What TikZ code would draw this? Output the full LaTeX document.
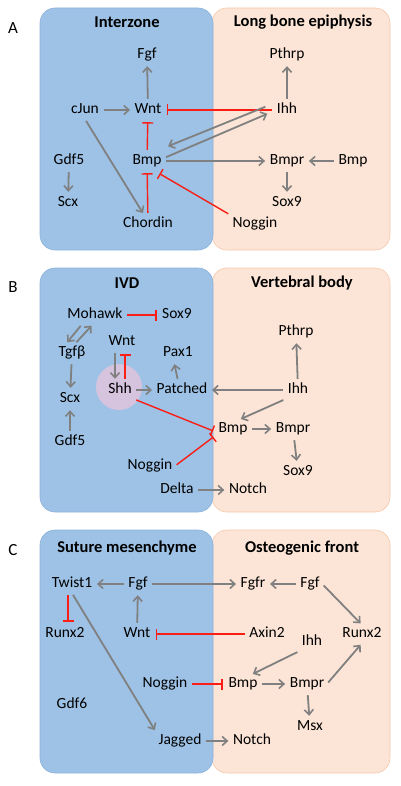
\documentclass[tikz,border=0pt]{standalone}
\usepackage{fontspec}
\setmainfont{Carlito}
\usepackage{tikz}
\usetikzlibrary{arrows.meta,positioning}
\definecolor{zoneblue}{RGB}{157,194,230}
\definecolor{zoneblueline}{RGB}{140,178,220}
\definecolor{zoneorange}{RGB}{252,229,214}
\definecolor{zoneorangeline}{RGB}{246,200,170}
\definecolor{arrowgray}{RGB}{128,128,128}
\definecolor{inhred}{RGB}{250,30,20}
\definecolor{shhpink}{RGB}{214,196,222}
\tikzstyle{leftzone} = [draw=zoneblueline, fill=zoneblue, rounded corners=15pt, line width=0.6pt]
\tikzstyle{rightzone} = [draw=zoneorangeline, fill=zoneorange, rounded corners=15pt, line width=0.6pt]
\tikzstyle{gene} = [inner sep=2.5pt, text height=10pt, text depth=3pt,
    font=\fontsize{15.5}{18}\selectfont]
\tikzstyle{zonetitle} = [font=\fontsize{16.5}{18}\selectfont\bfseries]
\tikzstyle{panel} = [font=\fontsize{17}{18}\selectfont]
\tikzstyle{act} = [draw=arrowgray, line width=1.8pt,
    -{Straight Barb[length=5pt,width=9pt,line width=1.6pt]}, shorten <=2pt, shorten >=2pt]
\tikzstyle{inh} = [draw=inhred, line width=1.4pt,
    -{Bar[width=11pt,line width=1.4pt]}, shorten <=2pt, shorten >=3pt]

\begin{document}
\begin{tikzpicture}[x=1pt,y=-1pt]
\useasboundingbox (0,0) rectangle (400,786);

% A: joint
\draw [rightzone] (212,8) rectangle (390,250);
\draw [leftzone] (40,8) rectangle (213,250);
\node [panel] (labA) at (13,28) {A};
\node [zonetitle] (titleA1) at (127,22) {Interzone};
\node [zonetitle] (titleA2) at (303,22) {Long bone epiphysis};

\node [gene] (fgfA) at (147,55) {Fgf};
\node [gene] (pthrpA) at (287,55) {Pthrp};
\node [gene] (cjunA) at (85,110) {cJun};
\node [gene] (wntA) at (148,110) {Wnt};
\node [gene] (ihhA) at (287,110) {Ihh};
\node [gene] (gdfA) at (69,161) {Gdf5};
\node [gene] (bmpA) at (147,161) {Bmp};
\node [gene] (bmprA) at (287,161) {Bmpr};
\node [gene] (bmp2A) at (353,161) {Bmp};
\node [gene] (scxA) at (68,203) {Scx};
\node [gene] (sox9A) at (287,203) {Sox9};
\node [gene] (chordinA) at (148,224) {Chordin};
\node [gene] (nogginA) at (255,224) {Noggin};

\draw [act] (wntA) -- (fgfA);
\draw [act] (cjunA) -- (wntA);
\draw [act] (cjunA.south) -- ([xshift=-4pt]chordinA.north);
\draw [act] (gdfA) -- (scxA);
\draw [inh] (ihhA) -- (wntA);
\draw [inh] (bmpA) -- (wntA);
\draw [inh] (chordinA) -- (bmpA);
\draw [inh] (nogginA.north west) -- ([xshift=10pt,yshift=-2pt]bmpA.south);
\draw [act] ([xshift=-7pt,yshift=4pt]ihhA.west) -- ([xshift=2pt,yshift=14pt]bmpA.east);
\draw [act] ([yshift=3pt]bmpA.east) -- ([xshift=-5pt,yshift=-3pt]ihhA.west);
\draw [act] (bmpA) -- (bmprA);
\draw [act] (bmp2A) -- (bmprA);
\draw [act] (ihhA) -- (pthrpA);
\draw [act] (bmprA) -- (sox9A);

% B: spine
\draw [rightzone] (212,268) rectangle (390,512);
\draw [leftzone] (40,268) rectangle (213,512);
\fill [shhpink] (119,387) circle (23);
\node [panel] (labB) at (13,287) {B};
\node [zonetitle] (titleB1) at (127,283) {IVD};
\node [zonetitle] (titleB2) at (302,283) {Vertebral body};

\node [gene] (mohawkB) at (95,315) {Mohawk};
\node [gene] (sox9B) at (177,315) {Sox9};
\node [gene] (pthrpB) at (296,332) {Pthrp};
\node [gene] (wntB) at (122,342) {Wnt};
\node [gene] (tgfB) at (72,353) {Tgfβ};
\node [gene] (pax1B) at (178,353) {Pax1};
\node [gene] (shhB) at (120,390) {Shh};
\node [gene] (patchedB) at (182,390) {Patched};
\node [gene] (ihhB) at (298,390) {Ihh};
\node [gene] (scxB) at (70,399) {Scx};
\node [gene] (bmpB) at (233,429) {Bmp};
\node [gene] (bmprB) at (293,429) {Bmpr};
\node [gene] (gdfB) at (70,442) {Gdf5};
\node [gene] (nogginB) at (150,466) {Noggin};
\node [gene] (sox9rB) at (298,472) {Sox9};
\node [gene] (deltaB) at (177,490) {Delta};
\node [gene] (notchB) at (248,490) {Notch};

\draw [inh] (mohawkB) -- (sox9B);
\draw [act] ([xshift=-13pt]mohawkB.south) -- ([xshift=-6pt]tgfB.north);
\draw [act] ([xshift=3pt]tgfB.north) -- ([xshift=-2pt]mohawkB.south);
\draw [act] (tgfB) -- (scxB);
\draw [act] (gdfB) -- (scxB);
\draw [act] ([xshift=-7pt]wntB.south) -- ([xshift=-5pt]shhB.north);
\draw [inh] ([xshift=5pt]shhB.north) -- ([xshift=3pt]wntB.south);
\draw [act] (shhB) -- (patchedB);
\draw [act] ([xshift=-4pt]patchedB.north) -- ([xshift=-4pt]pax1B.south);
\draw [act] (ihhB) -- (patchedB);
\draw [act] (ihhB) -- (pthrpB);
\draw [act] (ihhB.south west) -- ([xshift=6pt]bmpB.north);
\draw [inh] (shhB.south east) -- ([yshift=-3pt]bmpB.west);
\draw [inh] (nogginB.east) -- ([yshift=3pt]bmpB.south west);
\draw [act] (bmpB) -- (bmprB);
\draw [act] (bmprB) -- (sox9rB);
\draw [act] (deltaB) -- (notchB);

% C: suture
\draw [rightzone] (212,530) rectangle (390,773);
\draw [leftzone] (40,530) rectangle (213,773);
\node [panel] (labC) at (13,550) {C};
\node [zonetitle] (titleC1) at (127,548) {Suture mesenchyme};
\node [zonetitle] (titleC2) at (302,548) {Osteogenic front};

\node [gene] (twistC) at (72,584) {Twist1};
\node [gene] (fgfC) at (138,584) {Fgf};
\node [gene] (fgfrC) at (253,584) {Fgfr};
\node [gene] (fgf2C) at (310,584) {Fgf};
\node [gene] (runx2lC) at (65,634) {Runx2};
\node [gene] (wntC) at (137,634) {Wnt};
\node [gene] (axinC) at (267,634) {Axin2};
\node [gene] (runx2rC) at (362,634) {Runx2};
\node [gene] (ihhC) at (312,642) {Ihh};
\node [gene] (nogginC) at (165,684) {Noggin};
\node [gene] (bmpC) at (243,684) {Bmp};
\node [gene] (bmprC) at (307,684) {Bmpr};
\node [gene] (gdfC) at (72,705) {Gdf6};
\node [gene] (msxC) at (310,727) {Msx};
\node [gene] (jaggedC) at (180,741) {Jagged};
\node [gene] (notchC) at (252,741) {Notch};

\draw [act] (fgfC) -- (twistC);
\draw [act] (fgfC) -- (fgfrC);
\draw [act] (fgf2C) -- (fgfrC);
\draw [act] (fgf2C.east) -- (runx2rC.north);
\draw [inh] ([xshift=-4pt]twistC.south) -- ([xshift=3pt]runx2lC.north);
\draw [act] (twistC.south) -- (jaggedC.north west);
\draw [act] (wntC) -- (fgfC);
\draw [inh] (axinC) -- (wntC);
\draw [act] (ihhC.south west) -- ([xshift=8pt]bmpC.north);
\draw [inh] (nogginC) -- (bmpC);
\draw [act] (bmpC) -- (bmprC);
\draw [act] (bmprC.east) -- (runx2rC.south);
\draw [act] (bmprC) -- (msxC);
\draw [act] (jaggedC) -- (notchC);

\end{tikzpicture}
\end{document}
